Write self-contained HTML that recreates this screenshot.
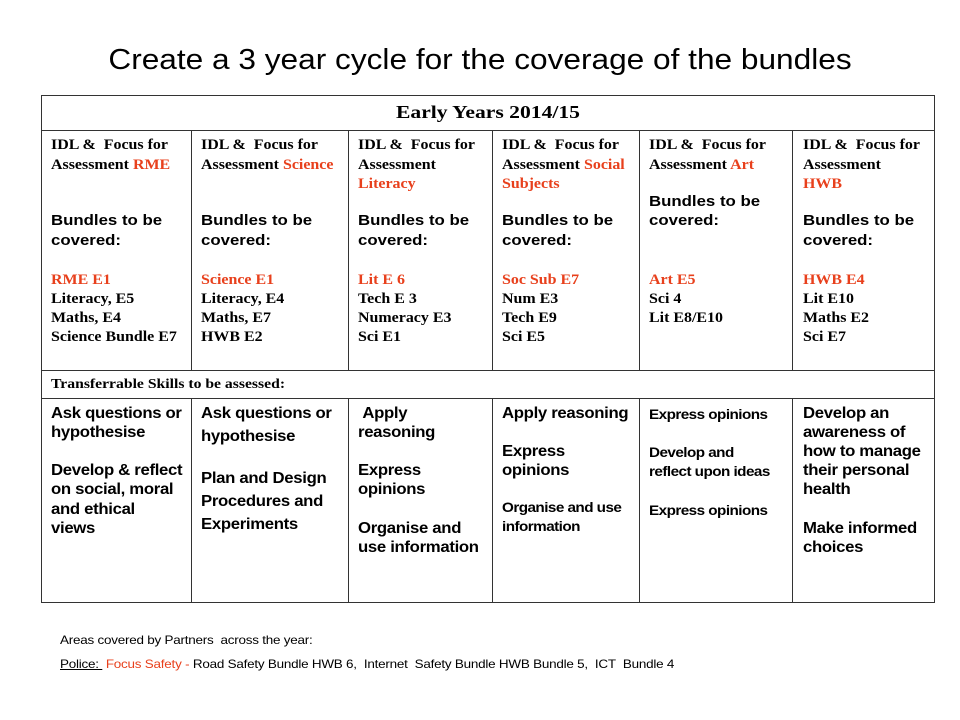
<!DOCTYPE html>
<html><head><meta charset="utf-8"><style>
html,body{margin:0;padding:0;background:#fff;}
#page{position:relative;width:960px;height:720px;overflow:hidden;background:#fff;color:#000;}
.t{position:absolute;white-space:nowrap;height:20px;line-height:20px;transform-origin:left center;}
.s{font-family:"Liberation Serif",serif;font-weight:bold;font-size:14.5px;transform:scaleX(1.1);}
.a{font-family:"Liberation Sans",sans-serif;font-weight:bold;font-size:15px;transform:scaleX(1.12);}
.n{font-family:"Liberation Sans",sans-serif;font-weight:bold;font-size:15.5px;letter-spacing:-0.3px;transform:scaleX(1.08);}
.n2{font-family:"Liberation Sans",sans-serif;font-weight:bold;font-size:14px;letter-spacing:-0.5px;transform:scaleX(1.09);}
.r{color:#e8401c;}
.hl{position:absolute;height:1px;background:#333;}
.vl{position:absolute;width:1px;background:#333;}
</style></head><body>
<div id="page">
<div class="t" style="left:0;width:960px;text-align:center;top:43px;height:34px;line-height:34px;font-family:'Liberation Sans',sans-serif;font-size:29px;transform-origin:center center;transform:scaleX(1.09);">Create a 3 year cycle for the coverage of the bundles</div>

<div>
<div class="hl" style="left:41px;width:894px;top:95px"></div>
<div class="hl" style="left:41px;width:894px;top:130px"></div>
<div class="hl" style="left:41px;width:894px;top:370px"></div>
<div class="hl" style="left:41px;width:894px;top:398px"></div>
<div class="hl" style="left:41px;width:894px;top:602px"></div>
<div class="vl" style="left:41px;top:95px;height:508px"></div>
<div class="vl" style="left:934px;top:95px;height:508px"></div>
<div class="vl" style="left:191px;top:130px;height:240px"></div>
<div class="vl" style="left:348px;top:130px;height:240px"></div>
<div class="vl" style="left:492px;top:130px;height:240px"></div>
<div class="vl" style="left:639px;top:130px;height:240px"></div>
<div class="vl" style="left:792px;top:130px;height:240px"></div>
<div class="vl" style="left:191px;top:398px;height:204px"></div>
<div class="vl" style="left:348px;top:398px;height:204px"></div>
<div class="vl" style="left:492px;top:398px;height:204px"></div>
<div class="vl" style="left:639px;top:398px;height:204px"></div>
<div class="vl" style="left:792px;top:398px;height:204px"></div>

<div class="t" style="left:41px;width:894px;text-align:center;top:102px;font-family:'Liberation Serif',serif;font-weight:bold;font-size:18px;transform-origin:center center;transform:scaleX(1.2)">Early Years 2014/15</div>

<div>
<div class="t s" style="left:51px;top:135px">IDL &amp;&nbsp; Focus for</div>
<div class="t s" style="left:51px;top:155px">Assessment <span class="r">RME</span></div>
<div class="t a" style="left:51px;top:211px">Bundles to be</div>
<div class="t a" style="left:51px;top:231px">covered:</div>
<div class="t s r" style="left:51px;top:270px">RME E1</div>
<div class="t s" style="left:51px;top:289px">Literacy, E5</div>
<div class="t s" style="left:51px;top:308px">Maths, E4</div>
<div class="t s" style="left:51px;top:327px">Science Bundle E7</div>
</div>
<div>
<div class="t s" style="left:201px;top:135px">IDL &amp;&nbsp; Focus for</div>
<div class="t s" style="left:201px;top:155px">Assessment <span class="r">Science</span></div>
<div class="t a" style="left:201px;top:211px">Bundles to be</div>
<div class="t a" style="left:201px;top:231px">covered:</div>
<div class="t s r" style="left:201px;top:270px">Science E1</div>
<div class="t s" style="left:201px;top:289px">Literacy, E4</div>
<div class="t s" style="left:201px;top:308px">Maths, E7</div>
<div class="t s" style="left:201px;top:327px">HWB E2</div>
</div>
<div>
<div class="t s" style="left:358px;top:135px">IDL &amp;&nbsp; Focus for</div>
<div class="t s" style="left:358px;top:155px">Assessment</div>
<div class="t s r" style="left:358px;top:174px">Literacy</div>
<div class="t a" style="left:358px;top:211px">Bundles to be</div>
<div class="t a" style="left:358px;top:231px">covered:</div>
<div class="t s r" style="left:358px;top:270px">Lit E 6</div>
<div class="t s" style="left:358px;top:289px">Tech E 3</div>
<div class="t s" style="left:358px;top:308px">Numeracy E3</div>
<div class="t s" style="left:358px;top:327px">Sci E1</div>
</div>
<div>
<div class="t s" style="left:502px;top:135px">IDL &amp;&nbsp; Focus for</div>
<div class="t s" style="left:502px;top:155px">Assessment <span class="r">Social</span></div>
<div class="t s r" style="left:502px;top:174px">Subjects</div>
<div class="t a" style="left:502px;top:211px">Bundles to be</div>
<div class="t a" style="left:502px;top:231px">covered:</div>
<div class="t s r" style="left:502px;top:270px">Soc Sub E7</div>
<div class="t s" style="left:502px;top:289px">Num E3</div>
<div class="t s" style="left:502px;top:308px">Tech E9</div>
<div class="t s" style="left:502px;top:327px">Sci E5</div>
</div>
<div>
<div class="t s" style="left:649px;top:135px">IDL &amp;&nbsp; Focus for</div>
<div class="t s" style="left:649px;top:155px">Assessment <span class="r">Art</span></div>
<div class="t a" style="left:649px;top:192px">Bundles to be</div>
<div class="t a" style="left:649px;top:211px">covered:</div>
<div class="t s r" style="left:649px;top:270px">Art E5</div>
<div class="t s" style="left:649px;top:289px">Sci 4</div>
<div class="t s" style="left:649px;top:308px">Lit E8/E10</div>
</div>
<div>
<div class="t s" style="left:803px;top:135px">IDL &amp;&nbsp; Focus for</div>
<div class="t s" style="left:803px;top:155px">Assessment</div>
<div class="t s r" style="left:803px;top:174px">HWB</div>
<div class="t a" style="left:803px;top:211px">Bundles to be</div>
<div class="t a" style="left:803px;top:231px">covered:</div>
<div class="t s r" style="left:803px;top:270px">HWB E4</div>
<div class="t s" style="left:803px;top:289px">Lit E10</div>
<div class="t s" style="left:803px;top:308px">Maths E2</div>
<div class="t s" style="left:803px;top:327px">Sci E7</div>
</div>

<div class="t" style="left:51px;top:375px;font-family:'Liberation Serif',serif;font-weight:bold;font-size:14px;transform:scaleX(1.12)">Transferrable Skills to be assessed:</div>

<div>
<div class="t n" style="left:51px;top:404px">Ask questions or</div>
<div class="t n" style="left:51px;top:423px">hypothesise</div>
<div class="t n" style="left:51px;top:461px">Develop &amp; reflect</div>
<div class="t n" style="left:51px;top:480px">on social, moral</div>
<div class="t n" style="left:51px;top:500px">and ethical</div>
<div class="t n" style="left:51px;top:519px">views</div>
</div>
<div>
<div class="t n" style="left:201px;top:404px">Ask questions or</div>
<div class="t n" style="left:201px;top:427px">hypothesise</div>
<div class="t n" style="left:201px;top:469px">Plan and Design</div>
<div class="t n" style="left:201px;top:492px">Procedures and</div>
<div class="t n" style="left:201px;top:515px">Experiments</div>
</div>
<div>
<div class="t n" style="left:358px;top:404px">&nbsp;Apply</div>
<div class="t n" style="left:358px;top:423px">reasoning</div>
<div class="t n" style="left:358px;top:461px">Express</div>
<div class="t n" style="left:358px;top:480px">opinions</div>
<div class="t n" style="left:358px;top:519px">Organise and</div>
<div class="t n" style="left:358px;top:538px">use information</div>
</div>
<div>
<div class="t n" style="left:502px;top:404px">Apply reasoning</div>
<div class="t n" style="left:502px;top:442px">Express</div>
<div class="t n" style="left:502px;top:461px">opinions</div>
<div class="t n2" style="left:502px;top:497px">Organise and use</div>
<div class="t n2" style="left:502px;top:516px">information</div>
</div>
<div>
<div class="t n2" style="left:649px;top:404px">Express opinions</div>
<div class="t n2" style="left:649px;top:442px">Develop and</div>
<div class="t n2" style="left:649px;top:461px">reflect upon ideas</div>
<div class="t n2" style="left:649px;top:500px">Express opinions</div>
</div>
<div>
<div class="t n" style="left:803px;top:404px">Develop an</div>
<div class="t n" style="left:803px;top:423px">awareness of</div>
<div class="t n" style="left:803px;top:442px">how to manage</div>
<div class="t n" style="left:803px;top:461px">their personal</div>
<div class="t n" style="left:803px;top:480px">health</div>
<div class="t n" style="left:803px;top:519px">Make informed</div>
<div class="t n" style="left:803px;top:538px">choices</div>
</div>
</div>

<div class="t" style="left:60px;top:630px;font-family:'Liberation Sans',sans-serif;font-size:12px;letter-spacing:-0.2px;transform:scaleX(1.12)">Areas covered by Partners&nbsp; across the year:</div>
<div class="t" style="left:60px;top:654px;font-family:'Liberation Sans',sans-serif;font-size:12px;letter-spacing:-0.2px;transform:scaleX(1.12)"><span style="text-decoration:underline">Police:&nbsp;</span> <span class="r">Focus Safety -</span> Road Safety Bundle HWB 6,&nbsp; Internet&nbsp; Safety Bundle HWB Bundle 5,&nbsp; ICT&nbsp; Bundle 4</div>
</div>
</body></html>
